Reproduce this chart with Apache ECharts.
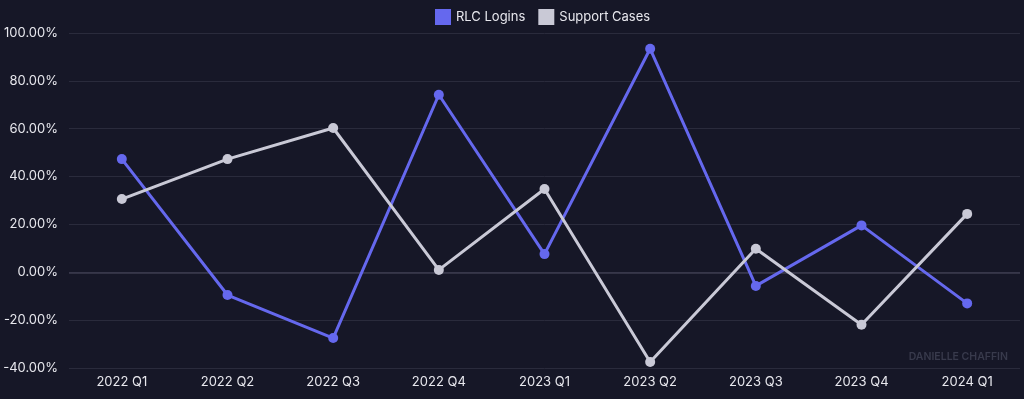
<!DOCTYPE html>
<html>
<head>
<meta charset="utf-8">
<script src="https://cdn.jsdelivr.net/npm/echarts@6/dist/echarts.min.js"></script>
<style>
  html, body { margin: 0; padding: 0; background: #161727; }
  #chart { width: 1024px; height: 399px; }
</style>
</head>
<body>
<div id="chart"></div>
<script>
// quarters on the x axis
const quarters = ['2022 Q1', '2022 Q2', '2022 Q3', '2022 Q4', '2023 Q1', '2023 Q2', '2023 Q3', '2023 Q4', '2024 Q1']
// growth in percent
const rlcLogins = [47.3, -9.5, -27.5, 74.2, 7.6, 93.4, -5.7, 19.6, -13.0]
const supportCases = [30.6, 47.3, 60.3, 1.0, 34.8, -37.5, 9.8, -21.9, 24.4]

const textColor = '#e8e8ee'
const chart = echarts.init(document.getElementById('chart'))

chart.setOption({
  backgroundColor: '#161727',
  textStyle: { fontFamily: 'Inter, sans-serif' },
  graphic: [
    {
      type: 'text',
      right: 16,
      top: 351,
      style: { text: 'DANIELLE CHAFFIN', fill: '#383a4c', fontSize: 10.5, fontWeight: 600, fontFamily: 'Inter, sans-serif' }
    }
  ],
  legend: {
    top: 4,
    left: 430,
    itemWidth: 16,
    itemHeight: 16,
    itemGap: 13,
    icon: 'rect',
    textStyle: { color: textColor, fontSize: 13 },
    data: ['RLC Logins', 'Support Cases']
  },
  grid: { left: 69, right: 4, top: 33, bottom: 31 },
  xAxis: {
    type: 'category',
    data: quarters,
    boundaryGap: true,
    axisLine: { show: false },
    axisTick: { show: false },
    axisLabel: { color: textColor, fontSize: 13, margin: 8 }
  },
  yAxis: {
    type: 'value',
    min: -40,
    max: 100,
    interval: 20,
    axisLine: { show: false },
    axisTick: { show: false },
    axisLabel: {
      color: textColor,
      fontSize: 13,
      margin: 11,
      formatter: (v) => v.toFixed(2) + '%'
    },
    splitLine: { lineStyle: { color: '#2a2b3c', width: 1 } }
  },
  series: [
    {
      name: 'RLC Logins',
      type: 'line',
      data: rlcLogins,
      symbol: 'circle',
      symbolSize: 10,
      color: '#6568ee',
      lineStyle: { width: 3 },
      markLine: {
        silent: true,
        symbol: 'none',
        label: { show: false },
        lineStyle: { color: '#3c3d4f', type: 'solid', width: 1.5 },
        data: [{ yAxis: 0 }],
        z: 1
      }
    },
    {
      name: 'Support Cases',
      type: 'line',
      data: supportCases,
      symbol: 'circle',
      symbolSize: 10,
      color: '#c9c9d6',
      lineStyle: { width: 3 }
    }
  ]
})
</script>
</body>
</html>
